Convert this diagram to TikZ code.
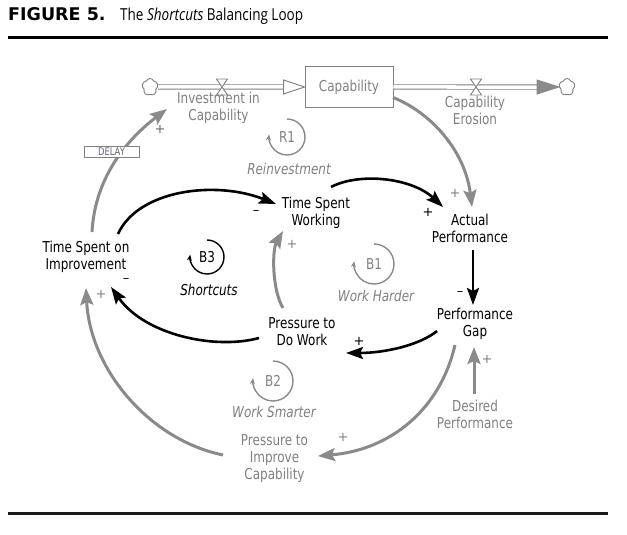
\documentclass[tikz,border=0pt]{standalone}
\usepackage{fontspec}
\usetikzlibrary{arrows.meta,shapes.symbols}
\newfontfamily\diagfont[FakeStretch=0.8]{DejaVu Sans}
\newfontfamily\diagbold{DejaVu Sans}
\newfontfamily\titlefont[FakeStretch=0.82]{Open Sans}
\definecolor{arrgray}{RGB}{138,138,138}
\definecolor{txtgray}{RGB}{128,128,128}
\definecolor{boxgray}{RGB}{128,128,128}
\definecolor{delaygray}{RGB}{100,100,115}
\tikzset{
  lbl/.style={font=\diagfont\fontsize{15}{17}\selectfont, align=center, inner sep=0pt},
  glbl/.style={lbl, text=txtgray},
  ital/.style={font=\diagfont\itshape\fontsize{15}{17}\selectfont, inner sep=0pt},
  blk/.style={draw=black, line width=2.6pt, -{Stealth[length=17pt,width=12pt,inset=3pt]}},
  gry/.style={draw=arrgray, line width=3pt, -{Stealth[length=17pt,width=13pt,inset=3pt]}},
  sgn/.style={font=\diagbold\fontsize{13}{13}\selectfont, inner sep=0pt},
  loopg/.style={draw=arrgray, line width=1.4pt, -{Stealth[length=6pt,width=5pt]}},
  loopb/.style={draw=black, line width=1.4pt, -{Stealth[length=6pt,width=5pt]}},
  pipe/.style={draw=boxgray, line width=0.9pt, double=white, double distance=3.5pt},
  cloudy/.style={cloud, cloud puffs=5, cloud puff arc=140, draw=boxgray, line width=0.9pt, fill=white, minimum width=16pt, minimum height=17pt, inner sep=0pt},
  valve/.style={draw=boxgray, line width=0.9pt, fill=white}
}
\begin{document}
\begin{tikzpicture}[x=1pt,y=1pt]
\useasboundingbox (0,0) rectangle (627,-535);
% title and rules
\node[anchor=base west, inner sep=0pt, font=\diagbold\bfseries\fontsize{17.5}{18}\selectfont] (fig) at (8,-20.5) {FIGURE 5.};
\node[anchor=base west, inner sep=0pt, font=\titlefont\fontsize{16.5}{18}\selectfont] (ttl) at (120,-20.5) {The \textit{Shortcuts} Balancing Loop};
\draw[line width=3pt] (8,-37.7) -- (607.5,-37.7);
\draw[line width=2.4pt, draw=black!90] (8,-513.3) -- (607.5,-513.3);

% stock and flows
\node[cloudy] (cl1) at (150,-87) {};
\node[cloudy] (cl2) at (567,-87) {};
\node[glbl, draw=boxgray, line width=0.8pt, minimum width=88pt, minimum height=41pt] (cap) at (349,-87) {Capability};
\draw[pipe, shorten >=20pt] (cl1.east) -- (cap.west);
\draw[draw=boxgray, line width=0.9pt, fill=white] (cap.west) -- ++(-21,7) -- ++(0,-14) -- cycle;
\draw[pipe, shorten >=21pt] (cap.east) -- (cl2.west);
\draw[draw=arrgray, line width=0.9pt, fill=arrgray] (cl2.west) -- ++(-22,7) -- ++(0,-14) -- cycle;
\coordinate (v1) at (222,-87);
\coordinate (v2) at (476,-87);
\draw[valve] ([shift={(-5.5,8)}]v1) -- ++(11,0) -- ++(-11,-16) -- ++(11,0) -- cycle;
\draw[valve] ([shift={(-5.5,8)}]v2) -- ++(11,0) -- ++(-11,-16) -- ++(11,0) -- cycle;
\node[glbl] (iic) at (218.5,-108) {Investment in\\Capability};
\node[glbl] (ce) at (475,-110) {Capability\\Erosion};

% variables
\node[lbl] (tsw) at (316,-212.5) {Time Spent\\Working};
\node[lbl] (ap) at (470,-228) {Actual\\Performance};
\node[lbl] (pg) at (475,-324) {Performance\\Gap};
\node[lbl] (pdw) at (302,-332) {Pressure to\\Do Work};
\node[lbl] (tsi) at (86,-257) {Time Spent on\\Improvement};
\node[glbl] (pic) at (274.5,-459) {Pressure to\\Improve\\Capability};
\node[glbl] (dp) at (475,-414) {Desired\\Performance};

% black links
\draw[blk] ([shift={(32,23)}]tsi.center) .. controls (138,-190) and (215,-180) .. ([shift={(-40,8.5)}]tsw.center);
\draw[blk] ([shift={(15,25.5)}]tsw.center) .. controls (360,-172) and (412,-178) .. ([shift={(-27,21)}]ap.center);
\draw[blk] ([shift={(3,-22)}]ap.center) -- ([shift={(-2,19)}]pg.center);
\draw[blk] ([shift={(-38,-7)}]pg.center) .. controls (420,-345) and (385,-353) .. ([shift={(44,-21)}]pdw.center);
\draw[blk] ([shift={(-43,-6)}]pdw.center) .. controls (215,-350) and (145,-335) .. ([shift={(25,-30)}]tsi.center);

% gray links
\draw[gry] ([shift={(-19,24)}]pdw.center) .. controls (272,-290) and (272,-250) .. ([shift={(-33,-18.5)}]tsw.center);
\draw[gry] ([shift={(44,-10.5)}]cap.center) .. controls (430,-112) and (465,-150) .. ([shift={(2,21)}]ap.center);
\draw[gry] ([shift={(-20,-21)}]pg.center) .. controls (440,-410) and (390,-450) .. ([shift={(43.5,3)}]pic.center);
\draw[gry] ([shift={(-1,20)}]dp.center) -- ([shift={(-1,-23)}]pg.center);
\draw[gry] ([shift={(-51.5,4)}]pic.center) .. controls (150,-440) and (90,-370) .. ([shift={(0,-31)}]tsi.center);
\draw[gry] ([shift={(6,25)}]tsi.center) .. controls (95,-175) and (130,-137) .. ([shift={(-51.5,-1)}]iic.center);
\node[draw=boxgray, line width=0.8pt, fill=white, minimum width=55pt, minimum height=11pt, inner sep=0pt, font=\diagfont\fontsize{10.5}{10}\selectfont, text=delaygray] (dly) at (111.5,-151.5) {DELAY};

% polarity signs
\node[sgn, text=delaygray] (s1) at (160,-129) {+};
\node[sgn] (s2) at (256,-212) {–};
\node[sgn] (s3) at (428,-212) {+};
\node[sgn, text=txtgray] (s4) at (455,-193) {+};
\node[sgn] (s5) at (460,-293) {–};
\node[sgn] (s6) at (359,-341) {+};
\node[sgn, text=txtgray] (s7) at (292,-244) {+};
\node[sgn, text=txtgray] (s8) at (487,-359) {+};
\node[sgn, text=txtgray] (s9) at (343,-437) {+};
\node[sgn] (s10) at (126,-280) {–};
\node[sgn, text=txtgray] (s11) at (101,-294) {+};

% loop markers
\node[glbl] (r1) at (287,-137) {R1};
\draw[loopg] ([shift={(90:18)}]r1.center) arc[start angle=90, end angle=-188, radius=18];
\node[ital, text=txtgray] (reinv) at (289,-169) {Reinvestment};
\node[lbl] (b3) at (207,-257) {B3};
\draw[loopb] ([shift={(90:17)}]b3.center) arc[start angle=90, end angle=-188, radius=17];
\node[ital] (shc) at (209,-290) {Shortcuts};
\node[glbl] (b1) at (374,-264) {B1};
\draw[loopg] ([shift={(90:20)}]b1.center) arc[start angle=90, end angle=-188, radius=20];
\node[ital, text=txtgray] (wh) at (376,-296) {Work Harder};
\node[glbl] (b2) at (273,-381) {B2};
\draw[loopg] ([shift={(90:20)}]b2.center) arc[start angle=90, end angle=-188, radius=20];
\node[ital, text=txtgray] (ws) at (274,-412) {Work Smarter};
\end{tikzpicture}
\end{document}
